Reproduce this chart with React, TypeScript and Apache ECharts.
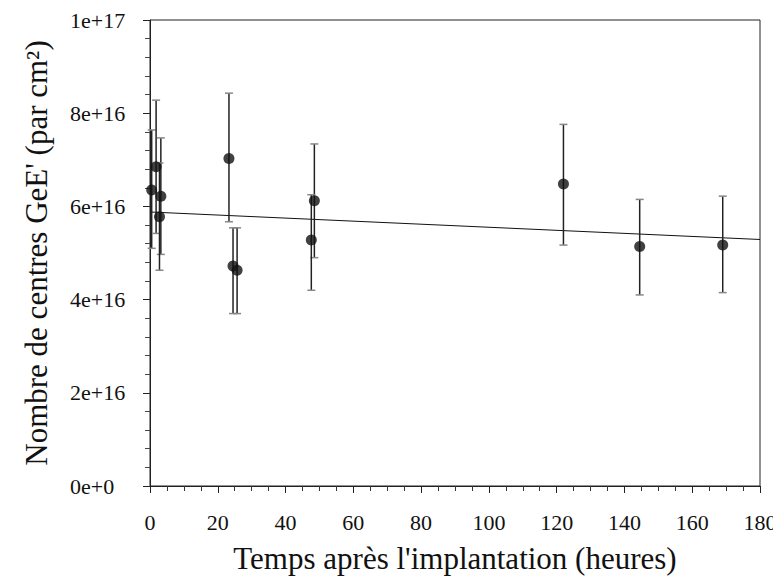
import React, { useEffect, useRef } from "react";
import * as echarts from "echarts";

const hours = [0.5, 1.8, 3.2, 2.8, 23.3, 24.5, 25.7, 48.5, 47.6, 122, 144.5, 169];
const centres = [6.35e16, 6.85e16, 6.22e16, 5.78e16, 7.03e16, 4.72e16, 4.63e16, 6.12e16, 5.28e16, 6.48e16, 5.14e16, 5.17e16];
const errLow = [5.1e16, 5.42e16, 4.97e16, 4.63e16, 5.67e16, 3.7e16, 3.7e16, 4.9e16, 4.2e16, 5.17e16, 4.1e16, 4.15e16];
const errHigh = [7.64e16, 8.28e16, 7.47e16, 6.93e16, 8.43e16, 5.54e16, 5.54e16, 7.34e16, 6.25e16, 7.76e16, 6.15e16, 6.22e16];
const fitX = [0, 180];
const fitY = [5.88e16, 5.29e16];

export default function App() {
  const ref = useRef<HTMLDivElement>(null);
  useEffect(() => {
    const chart = echarts.init(ref.current!, null, { renderer: "svg" });
    const font = "Liberation Serif";
    const errData = hours.map((h, i) => [h, errLow[i], errHigh[i]]);
    chart.setOption({
      animation: false,
      backgroundColor: "#fff",
      grid: {
        left: 142,
        right: 21,
        top: 12,
        bottom: 99,
        show: true,
        borderColor: "#222",
        borderWidth: 1,
      },
      xAxis: {
        type: "value",
        min: 0,
        max: 180,
        interval: 20,
        name: "Temps après l'implantation (heures)",
        nameLocation: "middle",
        nameGap: 57,
        nameTextStyle: { fontFamily: font, fontSize: 31, color: "#111" },
        axisLine: { show: true, lineStyle: { color: "#222" } },
        axisTick: { show: true, inside: false, length: 7, lineStyle: { color: "#222" } },
        minorTick: { show: true, splitNumber: 4, length: 5, lineStyle: { color: "#333" } },
        axisLabel: { fontFamily: font, fontSize: 22, color: "#111", margin: 25 },
        splitLine: { show: false },
      },
      yAxis: {
        type: "value",
        min: 0,
        max: 1e17,
        interval: 2e16,
        name: "Nombre de centres GeE' (par cm²)",
        nameLocation: "middle",
        nameGap: 98,
        nameTextStyle: { fontFamily: font, fontSize: 31, color: "#111" },
        axisLine: { show: true, lineStyle: { color: "#222" } },
        axisTick: { show: true, inside: false, length: 7, lineStyle: { color: "#222" } },
        minorTick: { show: true, splitNumber: 5, length: 5, lineStyle: { color: "#444" } },
        axisLabel: {
          fontFamily: font,
          fontSize: 22,
          color: "#111",
          margin: 80,
          align: "left",
          formatter: (v: number) => v.toExponential(0),
        },
        splitLine: { show: false },
      },
      series: [
        {
          type: "line",
          data: fitX.map((x, i) => [x, fitY[i]]),
          symbol: "none",
          lineStyle: { color: "#111", width: 1 },
          z: 2,
        },
        {
          type: "custom",
          data: errData,
          renderItem: (params: any, api: any) => {
            const x = api.value(0);
            const lo = api.coord([x, api.value(1)]);
            const hi = api.coord([x, api.value(2)]);
            const cap = 4;
            return {
              type: "group",
              children: [
                { type: "line", shape: { x1: lo[0], y1: lo[1], x2: hi[0], y2: hi[1] }, style: { stroke: "#222", lineWidth: 1.5 } },
                { type: "line", shape: { x1: lo[0] - cap, y1: lo[1], x2: lo[0] + cap, y2: lo[1] }, style: { stroke: "#888", lineWidth: 1.5 } },
                { type: "line", shape: { x1: hi[0] - cap, y1: hi[1], x2: hi[0] + cap, y2: hi[1] }, style: { stroke: "#888", lineWidth: 1.5 } },
              ],
            };
          },
          z: 3,
        },
        {
          type: "scatter",
          data: hours.map((h, i) => [h, centres[i]]),
          symbol: "circle",
          symbolSize: 11,
          itemStyle: { color: "#111" },
          z: 4,
        },
      ],
    });
    return () => chart.dispose();
  }, []);
  return <div ref={ref} style={{ width: 773, height: 577 }} />;
}
